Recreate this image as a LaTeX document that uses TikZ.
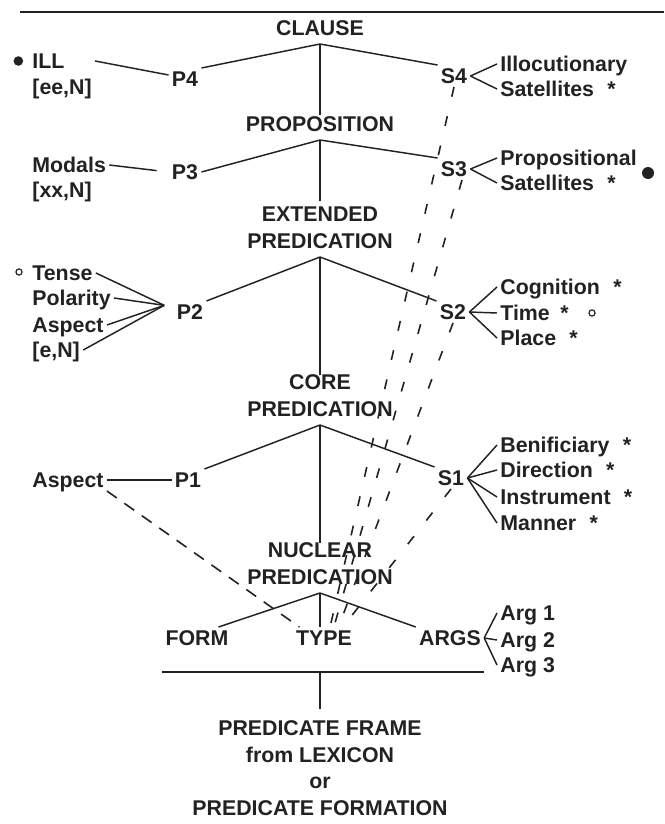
\documentclass[tikz,border=0pt]{standalone}
\usepackage{fontspec}
\setmainfont{Liberation Sans}
\definecolor{ink}{HTML}{222222}
\begin{document}
\begin{tikzpicture}[x=0.75pt,y=-0.75pt,color=ink,line width=1.1pt,
  every node/.style={font=\bfseries\fontsize{16}{20}\selectfont,inner sep=2pt},
  word/.style={text height=11.4pt,text depth=0pt},
  left word/.style={word,anchor=west},
  level node/.style={align=center,anchor=south,inner ysep=6pt},
  dash link/.style={line width=1.2pt,dash pattern=on 7.5pt off 15pt},
  aspect link/.style={line width=1.2pt,dash pattern=on 9pt off 7pt}]
\useasboundingbox (0,0) rectangle (664,824);
\draw[line width=1.5pt] (20,12) -- (664,12);
%clause
  \node[level node] (clause) at (320,44) {CLAUSE};
  \node[word] (P4) at (185,79) {P4};
  \node[word] (S4) at (454,76) {S4};
  \node[left word] (ill) at (29,61) {ILL};
  \node[left word] (ee) at (29,87) {[ee,N]};
  \fill ([xshift=-8pt]ill.west) circle (3.6pt);
  \node[left word] (illoc) at (497,64) {Illocutionary};
  \node[left word] (sat4) at (497,89) {Satellites\hspace{10pt}*};
%proposition
  \node[level node] (prop) at (320,140) {PROPOSITION};
  \node[word] (P3) at (185,172) {P3};
  \node[word] (S3) at (454,169) {S3};
  \node[left word] (modals) at (29,165) {Modals};
  \node[left word] (xx) at (29,190) {[xx,N]};
  \node[left word] (propo) at (497,158) {Propositional};
  \node[left word] (sat3) at (497,183) {Satellites\hspace{10pt}*};
  \fill (648,173) circle (4.5pt);
%extended predication
  \node[level node] (ext) at (320,257) {EXTENDED\\PREDICATION};
  \node[word] (P2) at (190,312) {P2};
  \node[word] (S2) at (453,312) {S2};
  \node[left word] (tense) at (29,273) {Tense};
  \draw[line width=0.9pt] (19,272) circle (2.3pt);
  \node[left word] (pol) at (29,298) {Polarity};
  \node[left word] (asp2) at (29,325) {Aspect};
  \node[left word] (eN) at (29,350) {[e,N]};
  \coordinate (P2 in) at ([xshift=-7pt,yshift=5pt]P2.west);
  \node[left word] (cog) at (497,287) {Cognition\hspace{10pt}*};
  \node[left word] (time) at (497,313) {Time\hspace{8pt}*};
  \draw[line width=0.9pt] (592,313) circle (2.3pt);
  \node[left word] (place) at (497,338) {Place\hspace{10pt}*};
%core predication
  \node[level node] (core) at (320,425) {CORE\\PREDICATION};
  \node[word] (P1) at (188,480) {P1};
  \node[word] (S1) at (451,478) {S1};
  \node[left word] (asp1) at (29,480) {Aspect};
  \node[left word] (ben) at (497,445) {Benificiary\hspace{10pt}*};
  \node[left word] (dir) at (497,470) {Direction\hspace{10pt}*};
  \node[left word] (inst) at (497,497) {Instrument\hspace{10pt}*};
  \node[left word] (man) at (497,523) {Manner\hspace{10pt}*};
%nuclear predication
  \node[level node] (nuc) at (320,593) {NUCLEAR\\PREDICATION};
  \node[word] (form) at (197,638) {FORM};
  \node[word] (type) at (324,638) {TYPE};
  \node[word] (args) at (450,638) {ARGS};
  \node[left word] (arg1) at (497,613) {Arg 1};
  \node[left word] (arg2) at (497,640) {Arg 2};
  \node[left word] (arg3) at (497,665) {Arg 3};
%predicate frame
  \coordinate (base) at (320,672);
  \node[level node,anchor=north] (frame) at (320,712)
    {PREDICATE FRAME\\from LEXICON\\or\\PREDICATE FORMATION};
%ends of the dashed lines
  \coordinate (t1) at ([shift={(7,-4)}]type.north);
  \coordinate (t2) at ([shift={(11,-4)}]type.north);
  \coordinate (t3) at ([shift={(16,-4)}]type.north);
  \coordinate (t4) at ([shift={(22,-4)}]type.north);
%paths
  \path (clause.south) edge (P4.north east) edge (S4.north west)
    edge[shorten >=-6pt] (prop.north);
  \path (ee.east |- ill) edge ([yshift=3pt]P4.west);
  \path (S4.east) edge (illoc.west) edge (sat4.west);
  \path (prop.south) edge (P3.east) edge (S3.north west)
    edge[shorten >=-2pt] (ext.north);
  \path (modals.east) edge[shorten >=9pt] (P3.west);
  \path (S3.east) edge (propo.west) edge (sat3.west);
  \path (ext.south) edge (P2.north east) edge (S2.north west)
    edge[shorten >=-7pt] (core.north);
  \path (tense.east) edge (P2 in) (pol.east) edge (P2 in)
    (asp2.east) edge (P2 in) (eN.east) edge (P2 in);
  \path (S2.east) edge (cog.west) edge (time.west) edge (place.west);
  \path (core.south) edge (P1.north east) edge (S1.north west)
    edge[shorten >=-7pt] (nuc.north);
  \path (asp1.east) edge (P1.west);
  \path (S1.east) edge (ben.west) edge (dir.west) edge (inst.west) edge (man.west);
  \path (nuc.south) edge ([xshift=-10pt]form.north east) edge (args.north west)
    edge (nuc.south |- type.north);
  \path (args.east) edge (arg1.west) edge (arg2.west) edge (arg3.west);
  \path (form.west |- base) edge (args.east |- base);
  \path (base) edge[shorten >=2pt] (frame.north);
%dashed links
  \path (S4.south) edge[dash link] (t1)
    ([xshift=6pt]S3.south) edge[dash link] (t2)
    (S2.south) edge[dash link] (t3)
    (S1.south) edge[dash link] (t4);
  \path (asp1.south east) edge[aspect link] ([xshift=5pt]type.north west);
\end{tikzpicture}
\end{document}
